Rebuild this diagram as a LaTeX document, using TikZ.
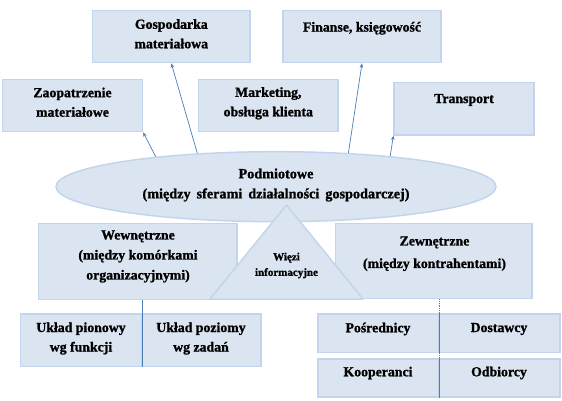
\documentclass[tikz,border=0pt]{standalone}
\usepackage{fontspec}
\setmainfont{Liberation Serif}[BoldFeatures={FakeBold=1.2}]
\usetikzlibrary{arrows.meta,shapes.geometric}
\definecolor{boxfill}{HTML}{DBE5F1}
\definecolor{boxline}{HTML}{C3D5EC}
\definecolor{arrowc}{HTML}{4A7EBB}
\begin{document}
\begin{tikzpicture}[x=1pt,y=-1pt,
  box/.style={draw=boxline, fill=boxfill, line width=1.2pt, inner sep=0pt, rectangle},
  txt/.style={font=\fontsize{13.8}{19.5}\selectfont\bfseries, align=center, inner sep=0pt},
  smalltxt/.style={font=\fontsize{11}{15.5}\selectfont\bfseries, align=center, inner sep=0pt},
  arr/.style={draw=arrowc, line width=0.7pt, -{Stealth[length=4.5pt,width=3.5pt]}},
  divider/.style={draw=arrowc, line width=0.8pt}]
\useasboundingbox (0,0) rectangle (562,401);
% top boxes
\node[box, minimum width=157.4pt, minimum height=52.4pt] (gosp) at (171.3,36.5) {};
\node[box, minimum width=158pt, minimum height=52.4pt] (fin) at (362,36.5) {};
\node[box, minimum width=140pt, minimum height=52.4pt] (zaop) at (72.5,105.5) {};
\node[box, minimum width=139.4pt, minimum height=52.4pt] (mark) at (268.3,105.5) {};
\node[box, minimum width=140pt, minimum height=52.7pt] (trans) at (464,108.7) {};
\node[txt] (tgosp) at (171.3,33.8) {Gospodarka\\materiałowa};
\node[txt] (tfin) at (362,28.3) {Finanse, księgowość};
\node[txt] (tzaop) at (72.5,102.2) {Zaopatrzenie\\materiałowe};
\node[txt] (tmark) at (268.3,103.3) {Marketing,\\obsługa klienta};
\node[txt] (ttrans) at (464,100) {Transport};
% ellipse
\node[ellipse, draw=boxline, fill=boxfill, line width=1.5pt, minimum width=440pt, minimum height=70pt, inner sep=0pt] (ell) at (276,186.7) {};
\node[txt, font=\fontsize{14.2}{20}\selectfont\bfseries] (tell) at (276,185) {Podmiotowe\\(między\hspace{6pt}sferami\hspace{6pt}działalności\hspace{6pt}gospodarczej)};
% arrows
\draw[arr] (ell.166) -- (zaop.south east);
\draw[arr] (ell.157) -- (gosp.south);
\draw[arr] (ell.25) -- (fin.south);
\draw[arr] (ell.15) -- (trans.south west);
% middle boxes
\node[box, minimum width=198.2pt, minimum height=76.2pt] (wew) at (137.9,261.4) {};
\node[box, minimum width=196.3pt, minimum height=75.2pt] (zew) at (433.9,260.9) {};
\node[txt, font=\fontsize{13.8}{20}\selectfont\bfseries] (twew) at (138,256.5) {Wewnętrzne\\(między komórkami\\organizacyjnymi)};
\node[txt, font=\fontsize{13.8}{22.5}\selectfont\bfseries] (tzew) at (434.5,253.7) {Zewnętrzne\\(między kontrahentami)};
% triangle
\draw[draw=boxline, fill=boxfill, line width=1.5pt, line join=round] (286.5,205) -- (210,299) -- (363,299) -- cycle;
\node[smalltxt] (twiezi) at (286.5,265.5) {Więzi\\informacyjne};
% bottom left
\node[box, minimum width=121pt, minimum height=52.7pt] (ukl1) at (81.2,340.4) {};
\node[box, minimum width=119.3pt, minimum height=52.7pt] (ukl2) at (201.35,340.4) {};
\node[txt] (tukl1) at (81,338.5) {Układ pionowy\\wg funkcji};
\node[txt] (tukl2) at (201,338.5) {Układ poziomy\\wg zadań};
\draw[divider] (ukl1.north east |- wew.south) -- (ukl1.south east);
% bottom right
\node[box, minimum width=121pt, minimum height=38.7pt] (pos) at (378.5,333.4) {};
\node[box, minimum width=121pt, minimum height=38.7pt] (dost) at (499.5,333.4) {};
\node[box, minimum width=121pt, minimum height=38pt] (koop) at (378.5,378) {};
\node[box, minimum width=121pt, minimum height=38pt] (odb) at (499.5,378) {};
\node[txt] (tpos) at (378,329) {Pośrednicy};
\node[txt] (tdost) at (499,329) {Dostawcy};
\node[txt] (tkoop) at (378,373) {Kooperanci};
\node[txt] (todb) at (499,373) {Odbiorcy};
\draw[divider, densely dotted] (pos.north east |- zew.south) -- (koop.south east);
\draw[divider] (pos.north east) -- (pos.south east);
\draw[divider] (koop.north east) -- (koop.south east);
\end{tikzpicture}
\end{document}
